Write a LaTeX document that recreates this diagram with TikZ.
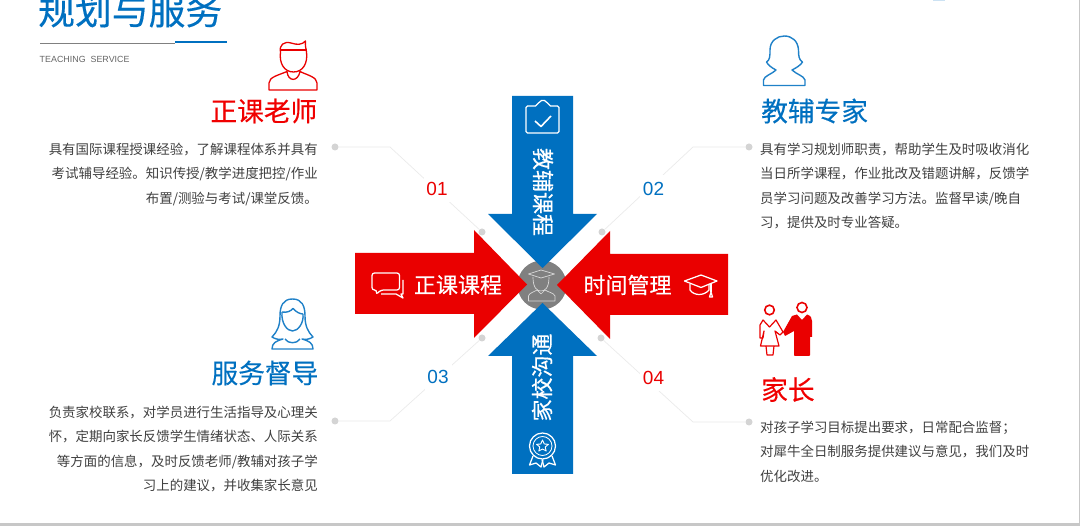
\documentclass[tikz,border=0pt]{standalone}
\usepackage{fontspec}
\setmainfont{Noto Sans CJK SC}
\newfontfamily\latinfont{Liberation Sans}
\usetikzlibrary{positioning}
\definecolor{myred}{HTML}{EA0000}
\definecolor{myblue}{HTML}{0070C0}
\definecolor{bodygray}{HTML}{404040}
\definecolor{leadgray}{HTML}{EBEBEB}
\definecolor{dotgray}{HTML}{D4D4D4}
\begin{document}
\begin{tikzpicture}[x=1pt,y=-1pt,
heading/.style={inner sep=0pt, font=\fontsize{26.7}{30}\selectfont\addfontfeature{FakeBold=0.3}},
bodyleft/.style={inner sep=0pt, anchor=north east, align=right, text=bodygray, font=\fontsize{13.45}{24.5}\selectfont},
bodyright/.style={inner sep=0pt, anchor=north west, align=left, text=bodygray, font=\fontsize{13.45}{24.5}\selectfont},
arrowtext/.style={inner sep=0pt, text=white, font=\fontsize{22}{24}\selectfont\addfontfeature{FakeBold=0.4}},
number/.style={fill=white, inner sep=0pt, minimum size=27pt, font=\latinfont\fontsize{19}{20}\selectfont},
dot/.style={circle, fill=dotgray, inner sep=0pt, minimum size=7pt},
leader/.style={draw=leadgray, line width=0.7pt},
iconred/.style={draw=myred, line width=1.3pt, line join=round},
iconblue/.style={draw=myblue!88!white, line width=1.4pt, line join=round},
iconwhite/.style={draw=white, line width=1.25pt, line join=round},
]
\useasboundingbox (0,0) rectangle (1080,526);
\fill[white] (0,0) rectangle (1080,526);
% page edges
\fill[black!22] (0,523) rectangle (1080,526);
\fill[black!22] (1079,0) rectangle (1080,526);
\fill[myblue!20] (933,0) rectangle (945,1);

% title
\node (title) [inner sep=0pt, anchor=west, text=myblue, font=\fontsize{36.8}{40}\selectfont\addfontfeature{FakeBold=0.3}] at (38,10.5) {规划与服务};
\coordinate (ruleA) at (40,43);
\coordinate (ruleB) at (175,43);
\coordinate (ruleC) at (227,42);
\draw[black!50, line width=0.8pt] (ruleA) -- (ruleB);
\draw[myblue, line width=2pt] (ruleB |- ruleC) -- (ruleC);
\node (subtitle) [inner sep=0pt, anchor=west, text=black!60, font=\latinfont\fontsize{8.9}{10}\selectfont] at (39.5,59) {TEACHING\ \ SERVICE};

% leaders
\node (dotA) [dot] at (335,147) {};
\node (dotAin) [dot] at (482,232) {};
\node (dotB) [dot] at (749,147) {};
\node (dotBin) [dot] at (602,232) {};
\node (dotC) [dot] at (335,421) {};
\node (dotCin) [dot] at (482,338) {};
\node (dotD) [dot] at (749,422) {};
\node (dotDin) [dot] at (601,338) {};
\coordinate (bendA) at (390,147);
\coordinate (bendB) at (693,147);
\coordinate (bendC) at (390,421);
\coordinate (bendD) at (693,422);
\draw[leader] (dotA) -- (bendA) -- (dotAin);
\draw[leader] (dotB) -- (bendB) -- (dotBin);
\draw[leader] (dotC) -- (bendC) -- (dotCin);
\draw[leader] (dotD) -- (bendD) -- (dotDin);
\node (numA) [number, text=myred] at (437,189) {01};
\node (numB) [number, text=myblue] at (653.5,189) {02};
\node (numC) [number, text=myblue] at (438,377) {03};
\node (numD) [number, text=myred] at (653.5,378) {04};

% centre
\node (hub) [circle, fill=black!50, inner sep=0pt, minimum size=49pt] at (542,285) {};
\fill[myblue] (512,96) -- (573,96) -- (573,214) -- (597,214) -- (542.5,268) -- (488,214) -- (512,214) -- cycle;
\fill[myblue] (512,474) -- (573,474) -- (573,356) -- (597,356) -- (542.5,303) -- (488,356) -- (512,356) -- cycle;
\fill[myred] (355,253) -- (474,253) -- (474,230) -- (527,284.5) -- (474,338) -- (474,314) -- (355,314) -- cycle;
\fill[myred] (728,254) -- (610,254) -- (610,231) -- (557,285) -- (610,339) -- (610,315) -- (728,315) -- cycle;
\node (courseA) [arrowtext] at (458,285) {正课课程};
\node (courseB) [arrowtext] at (627.5,285) {时间管理};
\node (courseC) [arrowtext, rotate=-90] at (543,192) {教辅课程};
\node (courseD) [arrowtext, rotate=90] at (542,377.5) {家校沟通};

% icon in the hub
\draw[iconwhite, draw=white!85!black, line width=0.7pt] (528.5,274) -- (541,270) -- (554.5,274) -- (541,278) -- cycle;
\draw[iconwhite, draw=white!85!black, line width=0.7pt] (533,277) .. controls (533,288) and (537,291) .. (541,291) .. controls (545,291) and (549,288) .. (549,277);
\draw[iconwhite, draw=white!85!black, line width=0.7pt] (528.5,301) -- (528.5,296) .. controls (529,293) and (534,292) .. (537,290) -- (541,294) -- (545,290) .. controls (548,292) and (554,293) .. (555,296) -- (555,301) -- cycle;

% clipboard
\draw[iconwhite, rounded corners=1.5pt] (537,106) -- (526,106) -- (526,133) -- (559,133) -- (559,106) -- (549,106) -- (549,103) .. controls (546,103) and (546,100.5) .. (543,100.5) .. controls (540,100.5) and (540,103) .. (537,103) -- cycle;
\draw[iconwhite, line width=1.6pt] (535,121) -- (541,126.5) -- (551,116);
% bubbles
\draw[iconwhite, rounded corners=2.5pt] (372,273) -- (399.5,273) -- (399.5,290) -- (381,290) -- (376,294.5) -- (377,290) -- (372,290) -- cycle;
\draw[iconwhite] (403,280) -- (403,294) -- (401,294) -- (403,298) -- (396,294) -- (381,294);
% graduation cap
\draw[iconwhite] (684.5,281) -- (701,275) -- (717,281) -- (701,287.5) -- cycle;
\draw[iconwhite] (690,284) -- (690,290) .. controls (694,296) and (704,296) .. (709,290) -- (709,284);
\draw[iconwhite] (711,283) -- (711,292);
\draw[iconwhite] (709.5,297) -- (711,292) -- (712.5,297) -- cycle;
% badge
\draw[iconwhite] (542.5,446) circle (13);
\draw[iconwhite, line width=0.8pt] (542.5,446) circle (9.5);
\draw[iconwhite, line width=0.9pt] (542.5,440) -- (544.3,444) -- (548.5,444.3) -- (545.2,447) -- (546.2,451) -- (542.5,449) -- (538.8,451) -- (539.8,447) -- (536.5,444.3) -- (540.7,444) -- cycle;
\draw[iconwhite] (533,456) -- (529.5,465) -- (536,463) -- (541,467) -- (543,459.5);
\draw[iconwhite] (552,456) -- (555.5,465) -- (549,463) -- (544,467) -- (542,459.5);

% teacher
\draw[iconred] (269,90) -- (269,83) .. controls (269,77) and (279,75) .. (287,71.5) .. controls (288,82) and (298,82) .. (300,71.5) .. controls (307,75) and (317,77) .. (317,83) -- (317,90) -- cycle;
\draw[iconred] (280.5,52) .. controls (279,63) and (284,72) .. (293.5,72) .. controls (303,72) and (308,63) .. (306.5,52);
\draw[iconred] (280.5,52) .. controls (279,45) and (284,41) .. (291,43) .. controls (297,45) and (302,45) .. (305.5,41) .. controls (305,46) and (306,48) .. (306.5,52);
\draw[iconred] (280.5,50) .. controls (288,50) and (300,50) .. (306.5,50);
\node (headA) [heading, text=myred!70!red, anchor=east] at (317.5,111) {正课老师};
\node (textA) [bodyleft] at (318,142.5) {具有国际课程授课经验，了解课程体系并具有\\考试辅导经验。知识传授/教学进度把控/作业\\布置/测验与考试/课堂反馈。};

% tutor
\draw[iconblue] (763.5,85.5) -- (763.5,80) .. controls (764,76) and (772,74) .. (776,70) .. controls (772,68) and (768,65) .. (766.5,62) .. controls (770,60) and (770,56) .. (770,50) .. controls (770,41) and (777,36) .. (784.3,36) .. controls (792,36) and (798,41) .. (798.5,50) .. controls (798.5,56) and (799,60) .. (802.5,62) .. controls (801,65) and (796,68) .. (792,70) .. controls (796,74) and (804,76) .. (805,80) -- (805,85.5) -- cycle;
\node (headB) [heading, text=myblue, anchor=west] at (761,111) {教辅专家};
\node (textB) [bodyright] at (760,142.5) {具有学习规划师职责，帮助学生及时吸收消化\\当日所学课程，作业批改及错题讲解，反馈学\\员学习问题及改善学习方法。监督早读/晚自\\习，提供及时专业答疑。};

% supervisor
\draw[iconblue] (292.5,299) .. controls (283,299) and (280,306) .. (280,316) .. controls (280,326) and (277,332) .. (272,337) .. controls (275,339) and (279,340) .. (283,339) .. controls (276,341) and (272,343) .. (272,349) -- (313,349) .. controls (313,343) and (309,341) .. (302,339) .. controls (306,340) and (310,339) .. (313,337) .. controls (308,332) and (305,326) .. (305,316) .. controls (305,306) and (302,299) .. (292.5,299) -- cycle;
\draw[iconblue] (282,312) .. controls (287,313) and (291,311) .. (293,308.5) .. controls (296,312) and (300,314) .. (303,314);
\draw[iconblue] (282,312) .. controls (281,323) and (287,331) .. (292.5,331) .. controls (298,331) and (304,323) .. (303,314);
\draw[iconblue] (285,339) .. controls (288,344) and (297,344) .. (300,339);
\node (headC) [heading, text=myblue, anchor=east] at (318.5,373) {服务督导};
\node (textC) [bodyleft] at (318,405.5) {负责家校联系，对学员进行生活指导及心理关\\怀，定期向家长反馈学生情绪状态、人际关系\\等方面的信息，及时反馈老师/教辅对孩子学\\习上的建议，并收集家长意见};

% parents
\draw[myred, line width=1.6pt] (769.5,310) circle (4.8);
\draw[myred, line width=1.6pt] (802,307.5) circle (5);
\fill[myred] (792,316) -- (797,314.5) -- (802,320) -- (807,314.5) .. controls (811,316) and (812,318) .. (812,321) -- (812,337) -- (810,337) -- (810,355) .. controls (810,356) and (809,356) .. (808,356) -- (796,356) .. controls (795,356) and (794,356) .. (794,355) -- (794,331) -- (785,336) -- (783,332) -- cycle;
\draw[iconred, line width=1.2pt] (763,320) -- (769.5,327) -- (776,320) -- (783,332) -- (780,335) -- (775,331) -- (779,346) -- (760.5,346) -- (764,331) -- (763,338) -- (760,338) -- (760,325) -- cycle;
\draw[iconred, line width=1.2pt] (766,346) -- (767,355) -- (773,355) -- (774,346);
\node (headD) [heading, text=myred!70!red, anchor=west] at (761,389.5) {家长};
\node (textD) [bodyright] at (760,420.5) {对孩子学习目标提出要求，日常配合监督；\\对犀牛全日制服务提供建议与意见，我们及时\\优化改进。};
\end{tikzpicture}
\end{document}
